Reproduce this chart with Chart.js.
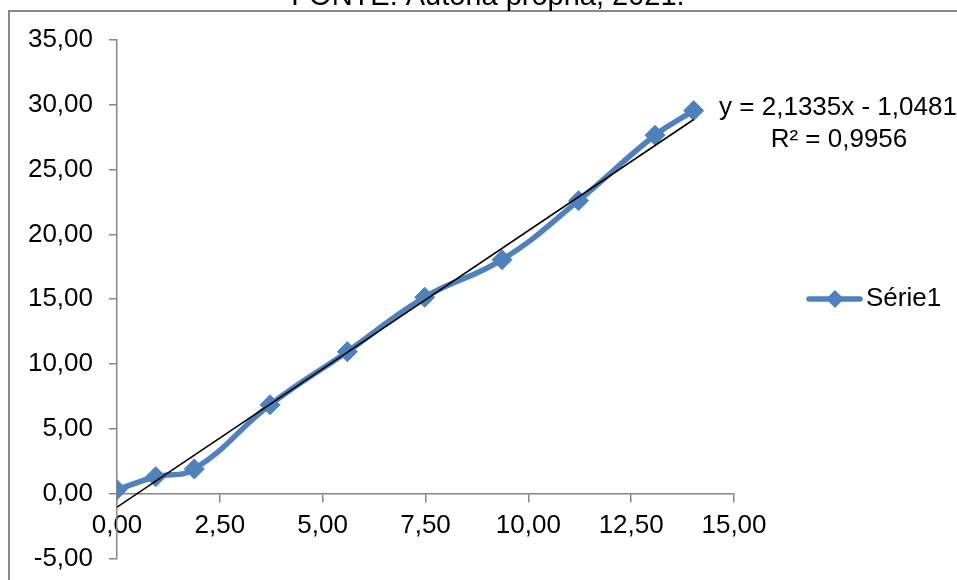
<!DOCTYPE html>
<html>
<head>
<meta charset="utf-8">
<script src="https://cdn.jsdelivr.net/npm/chart.js@4.4.1/dist/chart.umd.min.js"></script>
<style>
html,body{margin:0;padding:0;background:#fff;overflow:hidden;}
#wrap{width:957px;height:580px;position:relative;overflow:hidden;}
</style>
</head>
<body>
<div id="wrap"><canvas id="c" width="957" height="590"></canvas></div>
<script>
const titleText = "FONTE: Autoria própria, 2021.";
const seriesLabel = "Série1";
const xValues = [0.00, 0.94, 1.88, 3.72, 5.60, 7.48, 9.36, 11.22, 13.08, 14.02];
const yValues = [0.30, 1.30, 1.90, 6.85, 10.95, 15.15, 18.05, 22.60, 27.65, 29.55];
const trendSlope = [2.1335];
const trendIntercept = [-1.0481];
const trendR2 = [0.9956];
const yTicks = [-5, 0, 5, 10, 15, 20, 25, 30, 35];
const xTicks = [0, 2.5, 5, 7.5, 10, 12.5, 15];

const FONT = "'Liberation Sans', Arial, sans-serif";
const BLUE = '#4F81BD';
const AXIS = '#868686';
const fmt = v => v.toFixed(2).replace('.', ',');
const fmt4 = v => v.toFixed(4).replace('.', ',');

const seriesData = xValues.map((x, i) => ({x: x, y: yValues[i]}));
const xMinData = Math.min(...xValues), xMaxData = Math.max(...xValues);
const trendData = [xMinData, xMaxData].map(x => ({x: x, y: trendSlope[0] * x + trendIntercept[0]}));

const overlay = {
  id: 'overlay',
  beforeDraw(chart) {
    const ctx = chart.ctx;
    ctx.save();
    ctx.fillStyle = '#fff';
    ctx.fillRect(0, 0, chart.width, chart.height);
    ctx.strokeStyle = '#898989';
    ctx.lineWidth = 2;
    ctx.strokeRect(9, 11, 1200, 800);
    ctx.fillStyle = '#000';
    ctx.font = '29px ' + FONT;
    ctx.textAlign = 'center';
    ctx.textBaseline = 'alphabetic';
    ctx.fillText(titleText, 488, 5);
    ctx.restore();
  },
  afterDraw(chart) {
    const ctx = chart.ctx;
    ctx.save();
    ctx.fillStyle = '#000';
    ctx.font = '26px ' + FONT;
    ctx.textAlign = 'center';
    ctx.textBaseline = 'middle';
    const sign = trendIntercept[0] < 0 ? ' - ' : ' + ';
    ctx.fillText('y = ' + fmt4(trendSlope[0]) + 'x' + sign + fmt4(Math.abs(trendIntercept[0])), 838, 108);
    ctx.fillText('R² = ' + fmt4(trendR2[0]), 839, 140);
    // legend
    const ly = 299;
    ctx.strokeStyle = BLUE;
    ctx.lineWidth = 5.5;
    ctx.lineCap = 'round';
    ctx.beginPath();
    ctx.moveTo(809, ly);
    ctx.lineTo(860, ly);
    ctx.stroke();
    ctx.fillStyle = BLUE;
    ctx.beginPath();
    ctx.moveTo(835, ly - 9);
    ctx.lineTo(844, ly);
    ctx.lineTo(835, ly + 9);
    ctx.lineTo(826, ly);
    ctx.closePath();
    ctx.fill();
    ctx.fillStyle = '#000';
    ctx.textAlign = 'left';
    ctx.fillText(chart.data.datasets[0].label, 866, ly);
    ctx.restore();
  }
};

new Chart(document.getElementById('c'), {
  type: 'line',
  data: {
    datasets: [
      {
        label: seriesLabel,
        data: seriesData,
        borderColor: BLUE,
        backgroundColor: BLUE,
        borderWidth: 5.5,
        tension: 0.45,
        pointStyle: 'rectRot',
        pointRadius: 10,
        pointBorderWidth: 1,
        pointBackgroundColor: BLUE,
        pointBorderColor: BLUE,
        fill: false,
        order: 2
      },
      {
        label: 'Linear',
        data: trendData,
        borderColor: '#000',
        borderWidth: 1.6,
        pointRadius: 0,
        tension: 0,
        fill: false,
        order: 1
      }
    ]
  },
  options: {
    responsive: false,
    animation: false,
    devicePixelRatio: 1,
    layout: {padding: {left: 0, top: 40, right: 223, bottom: 14}},
    plugins: {legend: {display: false}, tooltip: {enabled: false}, title: {display: false}},
    scales: {
      x: {
        type: 'linear',
        position: {y: 0},
        min: 0, max: 15,
        afterBuildTicks: s => { s.ticks = xTicks.map(v => ({value: v})); },
        ticks: {color: '#000', font: {family: FONT, size: 26}, padding: 9, callback: v => fmt(v), maxRotation: 0, autoSkip: false},
        grid: {drawOnChartArea: false, drawTicks: true, tickLength: 8, color: AXIS, lineWidth: 1.5},
        border: {display: true, color: AXIS, width: 1.5}
      },
      y: {
        type: 'linear',
        position: 'left',
        min: -5, max: 35,
        afterBuildTicks: s => { s.ticks = yTicks.map(v => ({value: v})); },
        afterFit: s => { s.width = 117; },
        ticks: {color: '#000', font: {family: FONT, size: 26}, padding: 16, callback: v => fmt(v), autoSkip: false},
        grid: {drawOnChartArea: false, drawTicks: true, tickLength: 8, color: AXIS, lineWidth: 1.5},
        border: {display: true, color: AXIS, width: 1.5}
      }
    }
  },
  plugins: [overlay]
});
</script>
</body>
</html>
